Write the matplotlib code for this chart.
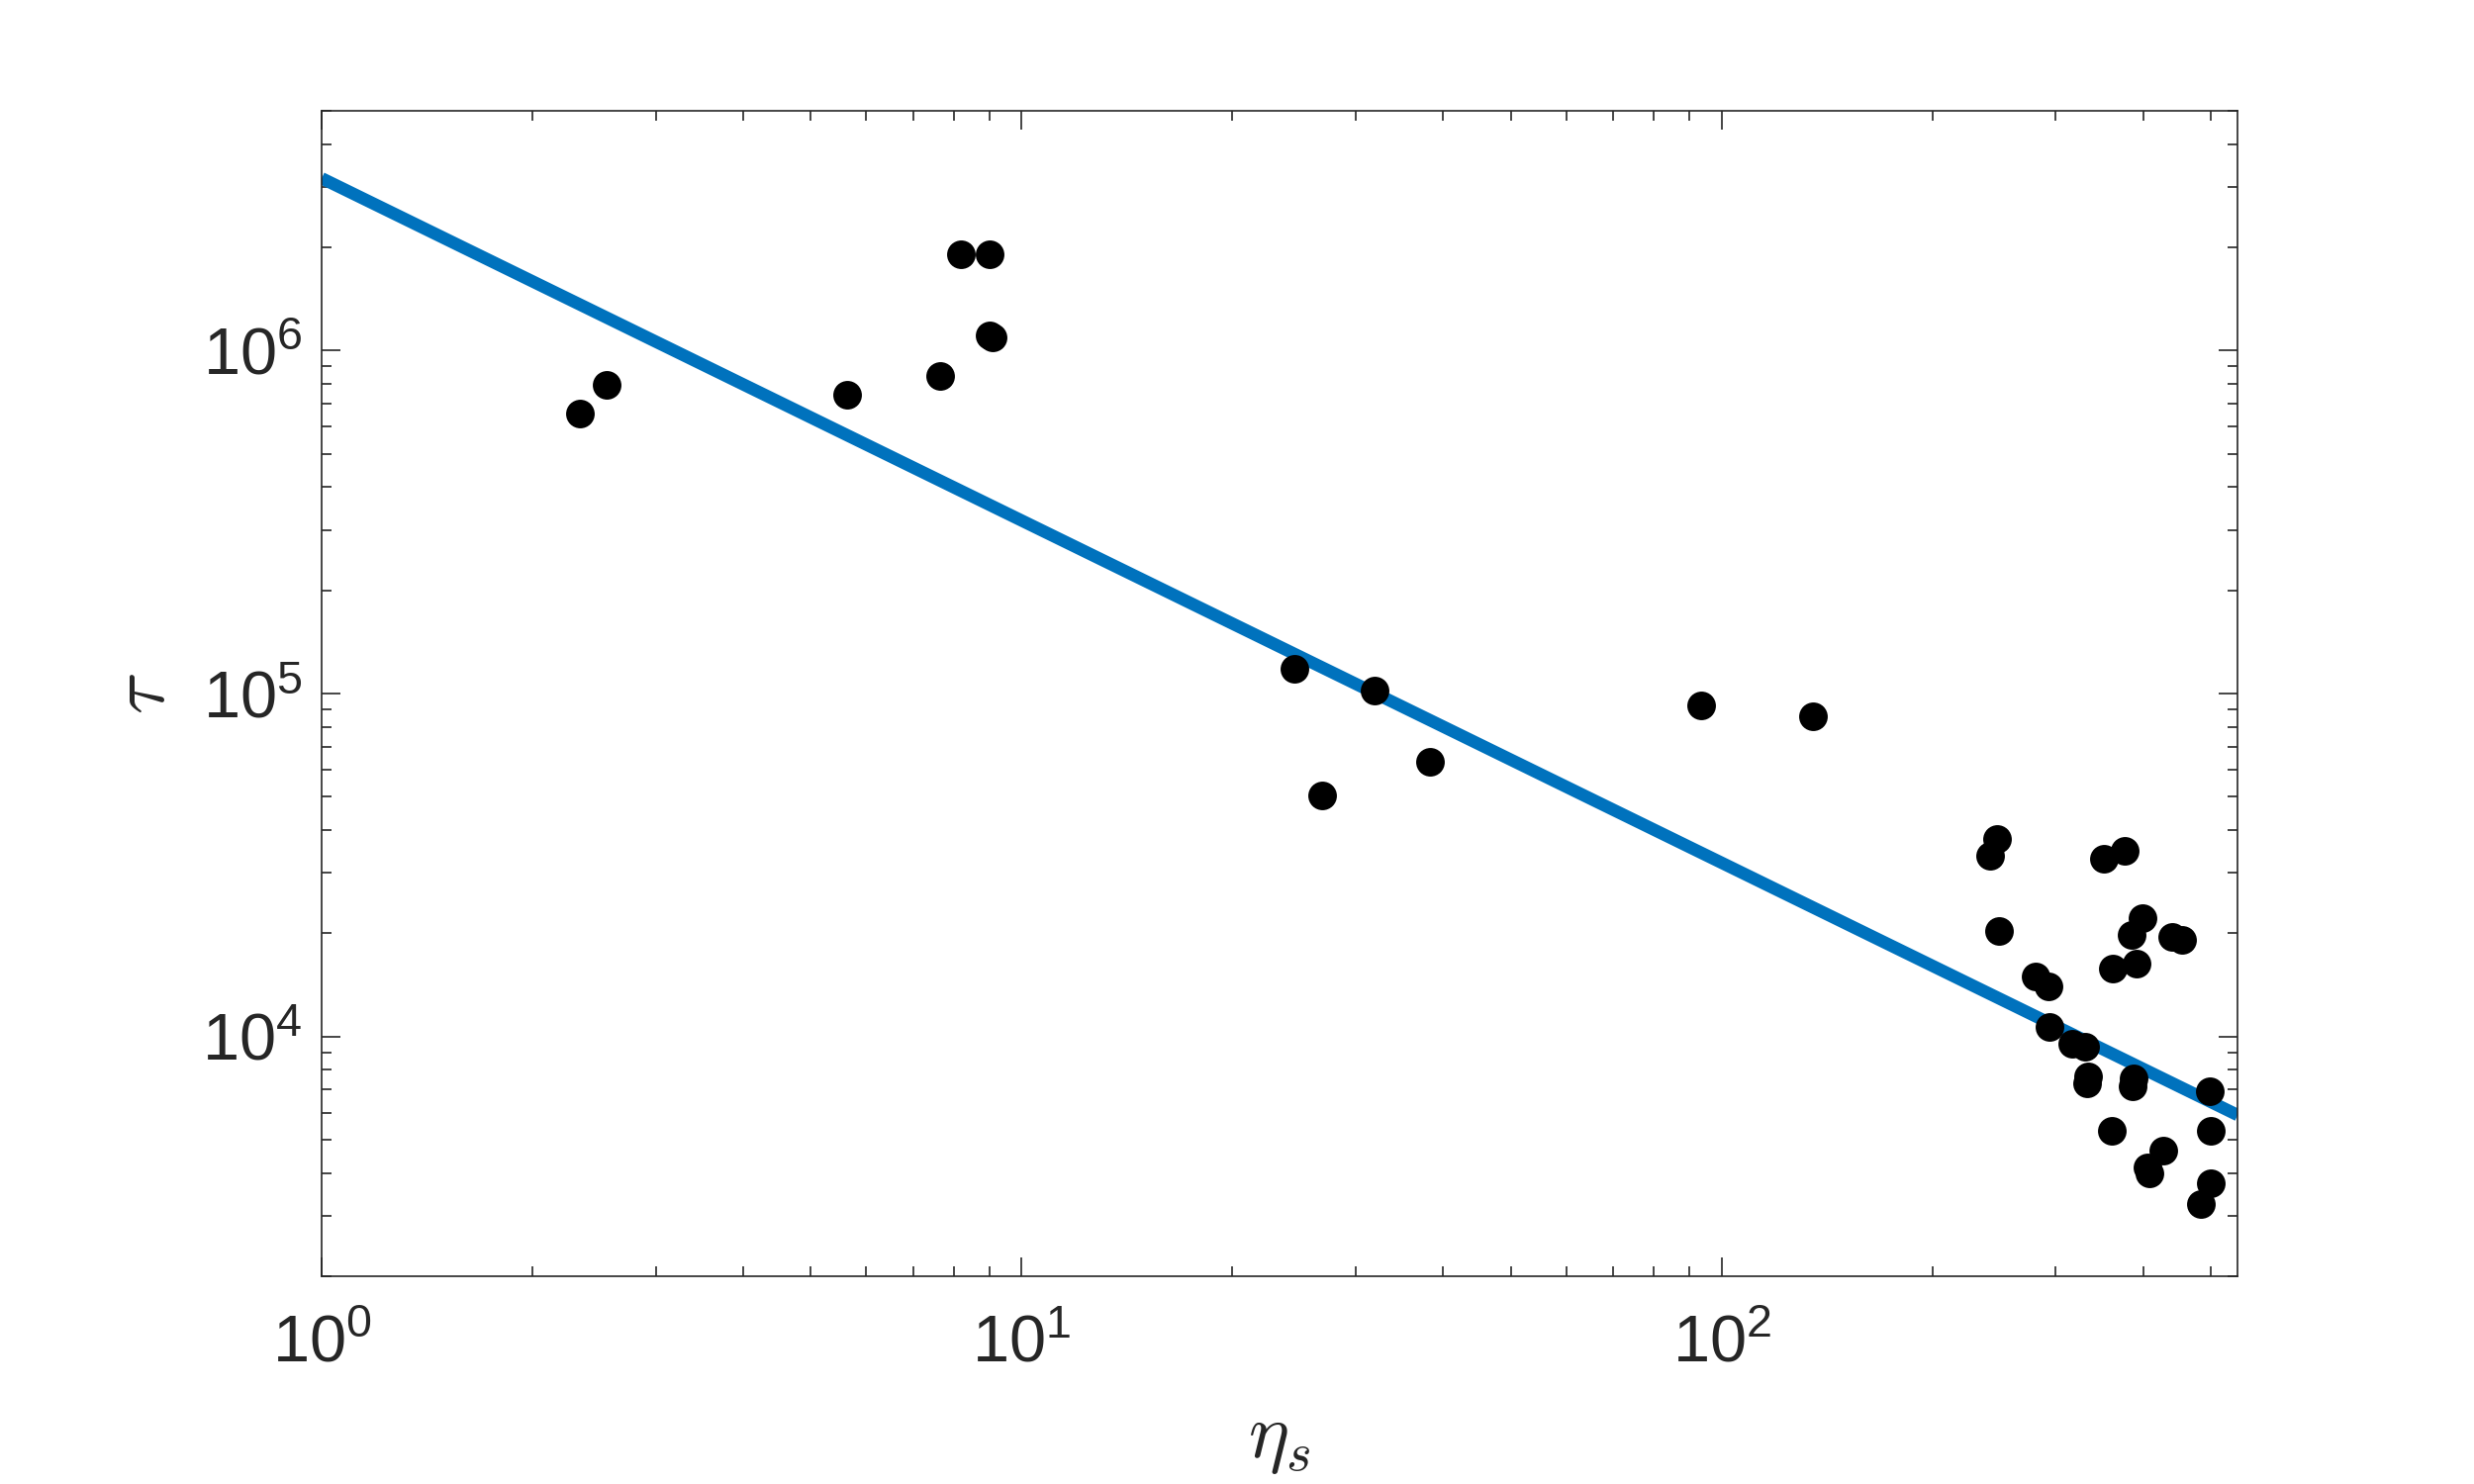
import numpy as np
import matplotlib
matplotlib.use("Agg")
import matplotlib.pyplot as plt
from matplotlib.ticker import LogLocator, NullFormatter

# data (log-log)
eta_s = [2.34, 2.55, 5.63, 7.65, 8.19, 8.99, 8.99, 9.09,
         24.5, 26.9, 31.9, 38.3, 93.5, 135,
         247, 242, 249, 352, 377, 399, 385, 440, 454, 362, 391,
         281, 293, 294, 317, 330, 334, 333, 387, 386, 498,
         361, 499, 428, 406, 409, 499, 483]
tau = [6.55e5, 7.92e5, 7.43e5, 8.44e5, 1.91e6, 1.91e6, 1.11e6, 1.09e6,
       1.18e5, 5.05e4, 1.02e5, 6.31e4, 9.25e4, 8.57e4,
       3.77e4, 3.36e4, 2.03e4, 3.29e4, 3.47e4, 2.22e4, 1.98e4, 1.95e4, 1.91e4, 1.58e4, 1.63e4,
       1.50e4, 1.40e4, 1.07e4, 9.53e3, 9.35e3, 7.63e3, 7.30e3, 7.55e3, 7.17e3, 6.94e3,
       5.30e3, 5.30e3, 4.64e3, 4.15e3, 3.99e3, 3.74e3, 3.25e3]

# power-law fit line end points
fit_eta = [1.0, 546.0]
fit_tau = [3.18e6, 5.9e3]

plt.rcParams['font.family'] = ['Liberation Sans', 'DejaVu Sans']
plt.rcParams['mathtext.fontset'] = 'cm'

fig = plt.figure(figsize=(12.5, 7.5), dpi=200)
ax = fig.add_axes([0.130, 0.140, 0.7745, 0.7853])

ax.plot(fit_eta, fit_tau, color='#0072BD', lw=4.5, solid_capstyle='butt', zorder=2)
ax.plot(eta_s, tau, 'o', color='black', ms=9.4, mec='black', zorder=3)

ax.set_xscale('log')
ax.set_yscale('log')
ax.set_xlim(1, 546)
ax.set_ylim(2e3, 5e6)

ax.xaxis.set_major_locator(LogLocator(base=10, numticks=10))
ax.xaxis.set_minor_locator(LogLocator(base=10, subs=np.arange(2, 10), numticks=20))
ax.yaxis.set_major_locator(LogLocator(base=10, numticks=10))
ax.yaxis.set_minor_locator(LogLocator(base=10, subs=np.arange(2, 10), numticks=20))
ax.xaxis.set_minor_formatter(NullFormatter())
ax.yaxis.set_minor_formatter(NullFormatter())

grey = '#262626'
for s in ax.spines.values():
    s.set_color(grey)
    s.set_linewidth(0.6)
ax.tick_params(which='both', direction='in', top=True, right=True,
               colors=grey, width=0.6)
ax.tick_params(which='major', length=6.8, labelsize=24)
ax.tick_params(axis='x', which='major', pad=14)
ax.tick_params(axis='y', which='major', pad=7)
ax.tick_params(which='minor', length=3.5)

ax.set_xlabel(r'$\eta_s$', fontsize=28, color=grey, labelpad=10)
ax.set_ylabel(r'$\tau$', fontsize=28, color=grey, labelpad=8)

fig.savefig('out.png', dpi=200, facecolor='white')
